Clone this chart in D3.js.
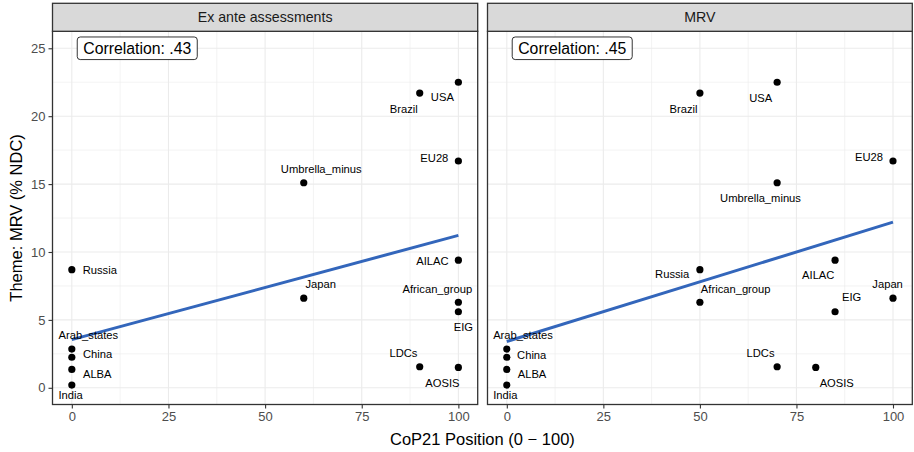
<!DOCTYPE html>
<html>
<head>
<meta charset="utf-8">
<script src="https://cdn.jsdelivr.net/npm/d3@7"></script>
<style>
  html, body { margin: 0; padding: 0; background: #fff; }
  svg { display: block; font-family: "Liberation Sans", Arial, sans-serif; }
</style>
</head>
<body>
<svg id="chart" width="914" height="452"></svg>
<script>
// ---------------- DATA ----------------
const groups = ["USA", "Brazil", "EU28", "Umbrella_minus", "Russia", "Japan", "AILAC",
  "African_group", "EIG", "Arab_states", "China", "ALBA", "India", "LDCs", "AOSIS"];
const themeMRV = [22.5, 21.7, 16.7, 15.1, 8.7, 6.6, 9.4, 6.3, 5.6, 2.85, 2.25, 1.35, 0.2, 1.55, 1.5];
const posExAnte = [100, 90, 100, 60, 0, 60, 100, 100, 100, 0, 0, 0, 0, 90, 100];
const posMRV = [70, 50, 100, 70, 50, 100, 85, 50, 85, 0, 0, 0, 0, 70, 80];
const panelNames = ["Ex ante assessments", "MRV"];
const correlations = [".43", ".45"];
const xTicks = [0, 25, 50, 75, 100];
const yTicks = [0, 5, 10, 15, 20, 25];

// label placement (pixel offsets of label centre from point), repel-like layout
const labelOffsetsExAnte = [[-16, 15], [-16, 16], [-24, -3], [17.5, -14], [28, 0], [17, -14.5],
  [-26, 1], [-21, -13.3], [5, 15.3], [16.5, -14], [25.7, -3], [25.4, 5], [-1.3, 10.4], [-16.3, -13.7], [-16, 15.3]];
const labelOffsetsMRV = [[-16.4, 15.6], [-16.4, 16], [-24, -3.7], [-16.6, 15], [-27.7, 4.3], [-5.4, -14.4],
  [-16.8, 14.7], [35.8, -13.3], [16.5, -14.3], [16.2, -14], [24.9, -2.3], [25.2, 5], [-1.4, 10.4], [-16.6, -13.7], [21, 15.3]];

const panels = [
  { name: panelNames[0], xs: posExAnte, corr: correlations[0], offs: labelOffsetsExAnte, x0: 52.5, x1: 477.7 },
  { name: panelNames[1], xs: posMRV, corr: correlations[1], offs: labelOffsetsMRV, x0: 487.5, x1: 912.3 }
];

// ---------------- LAYOUT ----------------
const svg = d3.select("#chart");
const stripTop = 3.3, stripBot = 31.3, plotBot = 404.5;
const y = d3.scaleLinear().domain([-1.23, 26.25]).range([plotBot, stripBot]);
const gridMajor = "#EBEBEB";
const frame = "#333333";

panels.forEach((p, pi) => {
  const x = d3.scaleLinear().domain([-5, 105]).range([p.x0, p.x1]);
  const g = svg.append("g");

  g.append("rect").attr("x", p.x0).attr("y", stripBot).attr("width", p.x1 - p.x0)
    .attr("height", plotBot - stripBot).attr("fill", "#fff");

  const xMinor = [12.5, 37.5, 62.5, 87.5];
  const yMinor = [2.5, 7.5, 12.5, 17.5, 22.5];
  g.selectAll(".xmin").data(xMinor).enter().append("line")
    .attr("x1", d => x(d)).attr("x2", d => x(d)).attr("y1", stripBot).attr("y2", plotBot)
    .attr("stroke", gridMajor).attr("stroke-width", 0.6);
  g.selectAll(".ymin").data(yMinor).enter().append("line")
    .attr("x1", p.x0).attr("x2", p.x1).attr("y1", d => y(d)).attr("y2", d => y(d))
    .attr("stroke", gridMajor).attr("stroke-width", 0.6);
  g.selectAll(".xmaj").data(xTicks).enter().append("line")
    .attr("x1", d => x(d)).attr("x2", d => x(d)).attr("y1", stripBot).attr("y2", plotBot)
    .attr("stroke", gridMajor).attr("stroke-width", 1.1);
  g.selectAll(".ymaj").data(yTicks).enter().append("line")
    .attr("x1", p.x0).attr("x2", p.x1).attr("y1", d => y(d)).attr("y2", d => y(d))
    .attr("stroke", gridMajor).attr("stroke-width", 1.1);

  // regression line (least squares)
  const n = p.xs.length;
  const mx = d3.mean(p.xs), my = d3.mean(themeMRV);
  let sxy = 0, sxx = 0;
  for (let i = 0; i < n; i++) { sxy += (p.xs[i] - mx) * (themeMRV[i] - my); sxx += (p.xs[i] - mx) ** 2; }
  const slope = sxy / sxx, icpt = my - slope * mx;
  const ext = d3.extent(p.xs);
  g.append("line")
    .attr("x1", x(ext[0])).attr("y1", y(icpt + slope * ext[0]))
    .attr("x2", x(ext[1])).attr("y2", y(icpt + slope * ext[1]))
    .attr("stroke", "#3366BB").attr("stroke-width", 3);

  g.selectAll(".pt").data(groups).enter().append("circle")
    .attr("cx", (d, i) => x(p.xs[i])).attr("cy", (d, i) => y(themeMRV[i]))
    .attr("r", 3.6).attr("fill", "#000");

  g.selectAll(".lab").data(groups).enter().append("text")
    .attr("x", (d, i) => x(p.xs[i]) + p.offs[i][0])
    .attr("y", (d, i) => y(themeMRV[i]) + p.offs[i][1])
    .attr("dy", "0.35em").attr("text-anchor", "middle")
    .attr("font-size", 11.2).attr("fill", "#000").text(d => d);

  const cg = g.append("g");
  const lx = x(1.4), ly = y(25);
  const ct = cg.append("text").attr("x", lx + 6).attr("y", ly).attr("dy", "0.36em")
    .attr("font-size", 15.8).attr("fill", "#000").text("Correlation: " + p.corr);
  const tw = ct.node().getComputedTextLength();
  cg.insert("rect", "text").attr("x", lx).attr("y", ly - 11.3).attr("width", tw + 12).attr("height", 22.6)
    .attr("rx", 3).attr("fill", "#fff").attr("stroke", "#000").attr("stroke-width", 0.8);

  g.append("rect").attr("x", p.x0).attr("y", stripBot).attr("width", p.x1 - p.x0)
    .attr("height", plotBot - stripBot).attr("fill", "none").attr("stroke", frame).attr("stroke-width", 1.3);

  g.append("rect").attr("x", p.x0).attr("y", stripTop).attr("width", p.x1 - p.x0)
    .attr("height", stripBot - stripTop).attr("fill", "#D9D9D9").attr("stroke", frame).attr("stroke-width", 1.3);
  g.append("text").attr("x", (p.x0 + p.x1) / 2).attr("y", (stripTop + stripBot) / 2).attr("dy", "0.35em")
    .attr("text-anchor", "middle").attr("font-size", 14.2).attr("fill", "#1A1A1A").text(p.name);

  const xa = g.append("g").attr("transform", `translate(0,${plotBot})`)
    .call(d3.axisBottom(x).tickValues(xTicks).tickSize(4).tickPadding(3).tickFormat(d3.format("d")));
  xa.select(".domain").remove();
  xa.selectAll("line").attr("stroke", frame).attr("stroke-width", 1.1);
  xa.selectAll("text").attr("font-size", 13).attr("fill", "#4D4D4D").attr("font-family", "Liberation Sans, Arial, sans-serif");

  if (pi === 0) {
    const ya = g.append("g").attr("transform", `translate(${p.x0},0)`)
      .call(d3.axisLeft(y).tickValues(yTicks).tickSize(4).tickPadding(3));
    ya.select(".domain").remove();
    ya.selectAll("line").attr("stroke", frame).attr("stroke-width", 1.1);
    ya.selectAll("text").attr("font-size", 13).attr("fill", "#4D4D4D").attr("font-family", "Liberation Sans, Arial, sans-serif");
  }
});

svg.append("text").attr("x", (52.5 + 912.3) / 2).attr("y", 444.5).attr("text-anchor", "middle")
  .attr("font-size", 16.5).attr("fill", "#000").text("CoP21 Position (0 \u2212 100)");
svg.append("text").attr("transform", `translate(22,${(stripBot + plotBot) / 2}) rotate(-90)`)
  .attr("text-anchor", "middle").attr("font-size", 16.5).attr("fill", "#000").text("Theme: MRV (% NDC)");
</script>
</body>
</html>
